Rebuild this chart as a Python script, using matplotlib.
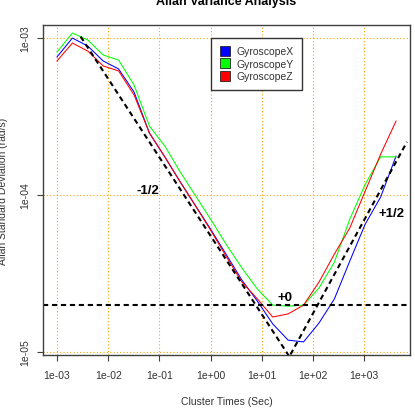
import matplotlib
matplotlib.use("Agg")
import matplotlib.pyplot as plt
from matplotlib.lines import Line2D
from matplotlib.ticker import FixedLocator, FixedFormatter, NullLocator

plt.rcParams["font.family"] = ["Liberation Sans", "DejaVu Sans"]

# Cluster times (s), one point per octave
tau = [0.001, 0.002, 0.004, 0.008, 0.016, 0.032, 0.064, 0.128, 0.256, 0.512,
       1.024, 2.048, 4.096, 8.192, 16.384, 32.768, 65.536, 131.072, 262.144,
       524.288, 1048.576, 2097.152, 4194.304]

# Allan deviation per axis (rad/s)
gyro_x = [7.57e-4, 1.00e-3, 8.89e-4, 7.14e-4, 6.35e-4, 4.53e-4, 2.48e-4, 1.746e-4,
          1.21e-4, 8.51e-5, 5.99e-5, 4.15e-5, 2.87e-5, 2.11e-5, 1.51e-5, 1.19e-5,
          1.16e-5, 1.53e-5, 2.18e-5, 3.80e-5, 6.53e-5, 9.71e-5, 1.77e-4]
gyro_y = [8.14e-4, 1.076e-3, 9.71e-4, 7.79e-4, 7.24e-4, 5.02e-4, 2.75e-4, 2.05e-4,
          1.40e-4, 9.86e-5, 6.93e-5, 4.81e-5, 3.43e-5, 2.52e-5, 1.99e-5, 1.96e-5,
          1.99e-5, 2.56e-5, 3.74e-5, 7.03e-5, 1.17e-4, 1.75e-4, 1.75e-4]
gyro_z = [7.14e-4, 9.29e-4, 8.26e-4, 6.64e-4, 6.17e-4, 4.34e-4, 2.48e-4, 1.75e-4,
          1.21e-4, 8.50e-5, 5.90e-5, 4.03e-5, 2.79e-5, 2.18e-5, 1.67e-5, 1.75e-5,
          1.99e-5, 2.79e-5, 4.21e-5, 6.17e-5, 1.06e-4, 1.82e-4, 2.96e-4]

# Reference slope lines
slope_neg_tau = [2.9e-3, 60.0]
slope_neg_val = [1.021e-3, 7.1e-6]
slope_pos_tau = [30.0, 6850.0]
slope_pos_val = [8.6e-6, 2.18e-4]
flat_level = 2.0e-5

xticks = [1e-3, 1e-2, 1e-1, 1e0, 1e1, 1e2, 1e3]
xtick_labels = ["1e-03", "1e-02", "1e-01", "1e+00", "1e+01", "1e+02", "1e+03"]
yticks = [1e-5, 1e-4, 1e-3]
ytick_labels = ["1e-05", "1e-04", "1e-03"]

W, H = 415, 414
fig = plt.figure(figsize=(W / 100, H / 100), dpi=100)
ax = fig.add_axes([43 / W, 1 - 356 / H, 367 / W, 330 / H])

ax.set_xscale("log")
ax.set_yscale("log")
ax.set_xlim(10 ** -3.273, 10 ** 3.895)
ax.set_ylim(10 ** -5.019, 10 ** -2.917)

# grid first so it sits underneath
for t in xticks:
    ax.axvline(t, color="orange", lw=0.8, ls=(0, (1, 2)), zorder=0)
for t in yticks:
    ax.axhline(t, color="orange", lw=0.8, ls=(0, (1, 2)), zorder=0)

ax.plot(tau, gyro_x, color="blue", lw=0.75)
ax.plot(tau, gyro_y, color="#00FF00", lw=0.75)
ax.plot(tau, gyro_z, color="red", lw=0.75)

dash = (0, (2.5, 1.8))
ax.plot(slope_neg_tau, slope_neg_val, color="black", lw=1.5, ls=dash)
ax.plot(slope_pos_tau, slope_pos_val, color="black", lw=1.5, ls=dash)
ax.axhline(flat_level, color="black", lw=1.5, ls=dash)

ax.text(0.0598, 1.076e-4, "-1/2", fontsize=9.5, fontweight="bold", ha="center", va="center")
ax.text(29.0, 2.24e-5, "+0", fontsize=9.5, fontweight="bold", ha="center", va="center")
ax.text(3412.0, 7.67e-5, "+1/2", fontsize=9.5, fontweight="bold", ha="center", va="center")

ax.xaxis.set_major_locator(FixedLocator(xticks))
ax.xaxis.set_major_formatter(FixedFormatter(xtick_labels))
ax.yaxis.set_major_locator(FixedLocator(yticks))
ax.yaxis.set_major_formatter(FixedFormatter(ytick_labels))
ax.xaxis.set_minor_locator(NullLocator())
ax.yaxis.set_minor_locator(NullLocator())
ax.tick_params(axis="both", direction="out", length=4, width=0.8, color="#404040",
               labelsize=7.5, labelcolor="#333333")
ax.tick_params(axis="x", pad=7)
ax.tick_params(axis="y", pad=5)
for lbl in ax.get_yticklabels():
    lbl.set_rotation(90)
    lbl.set_va("center")

for s in ax.spines.values():
    s.set_color("#404040")
    s.set_linewidth(1.0)

handles = [Line2D([], [], marker="s", ls="none", markersize=6.5, markerfacecolor=c,
                  markeredgecolor="#222222", markeredgewidth=0.6)
           for c in ["blue", "#00FF00", "red"]]
leg = ax.legend(handles, ["GyroscopeX", "GyroscopeY", "GyroscopeZ"],
                loc="upper left", bbox_to_anchor=(0.458, 0.961), fontsize=7.5,
                fancybox=False, framealpha=1, edgecolor="#333333",
                handlelength=1.0, handletextpad=0.6, labelspacing=0.25,
                borderpad=0.8, borderaxespad=0)
leg.get_frame().set_linewidth(1.0)
for t in leg.get_texts():
    t.set_color("#333333")

fig.text(226.5 / W, 1 - 1.5 / H, "Allan Variance Analysis", fontsize=9,
         fontweight="bold", ha="center", va="center")
fig.text(226.5 / W, 1 - 401.7 / H, "Cluster Times (Sec)", fontsize=7.5,
         color="#333333", ha="center", va="center")
fig.text(3.5 / W, 1 - 191 / H, "Allan Standard Deviation (rad/s)", fontsize=7.5,
         color="#333333", ha="center", va="center", rotation=90)

fig.savefig("out.png", dpi=100)
